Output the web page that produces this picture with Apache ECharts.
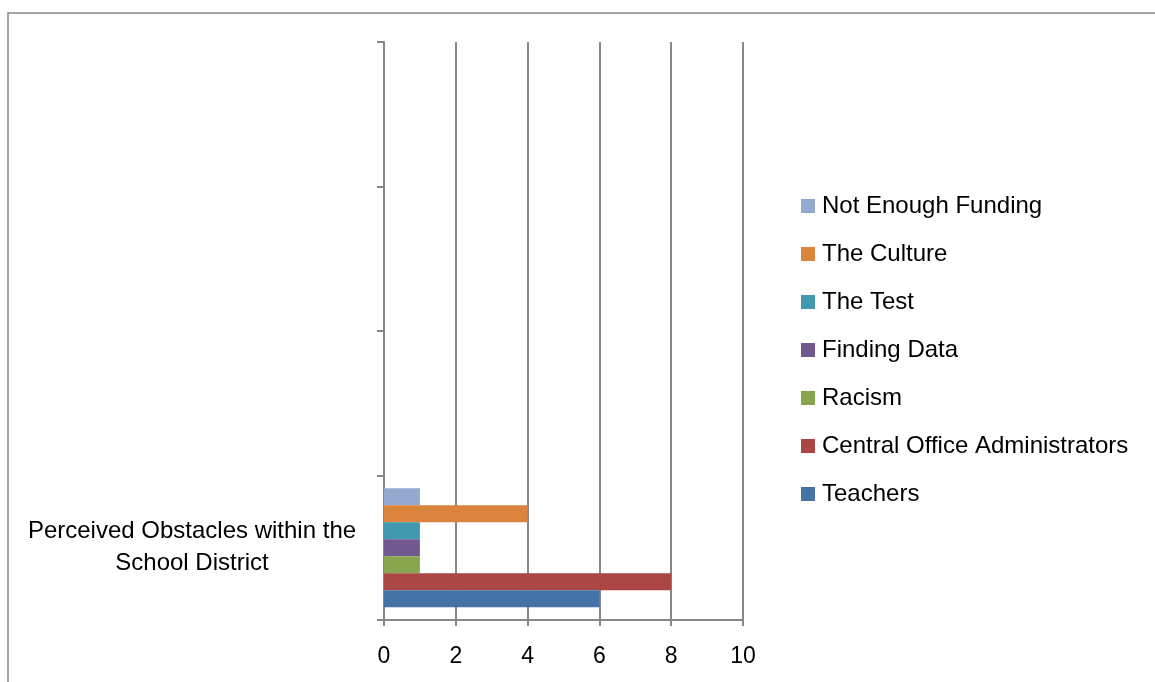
<!DOCTYPE html>
<html>
<head>
<meta charset="utf-8">
<script src="https://cdn.jsdelivr.net/npm/echarts@6/dist/echarts.min.js"></script>
<style>
  html, body { margin: 0; padding: 0; background: #fff; }
  #chart { width: 1155px; height: 682px; }
</style>
</head>
<body>
<div id="chart"></div>
<script>
// categories on the vertical axis (bottom to top), only the first one is used
var categories = ['Perceived Obstacles within the School District', '', '', ''];

// series, bottom bar first
var seriesNames = ['Teachers', 'Central Office Administrators', 'Racism', 'Finding Data', 'The Test', 'The Culture', 'Not Enough Funding'];
var teachers = [6];
var centralOffice = [8];
var racism = [1];
var findingData = [1];
var theTest = [1];
var theCulture = [4];
var notEnoughFunding = [1];
var seriesValues = [teachers, centralOffice, racism, findingData, theTest, theCulture, notEnoughFunding];
var colors = ['#4572A7', '#AA4643', '#89A54E', '#71588F', '#4198AF', '#DB843D', '#93A9CF'];

var xTicks = { min: 0, max: 10, interval: 2 };

var myChart = echarts.init(document.getElementById('chart'));
var gray = '#878787';

// echarts stacks horizontal bars top-down, so add them top bar first
var series = [];
for (var i = seriesNames.length - 1; i >= 0; i--) {
    series.push({
        name: seriesNames[i],
        type: 'bar',
        data: seriesValues[i],
        barGap: 0,
        barCategoryGap: '17.6%',
        itemStyle: { color: colors[i] }
    });
}

var option = {
    animation: false,
    textStyle: { fontFamily: 'Liberation Sans' },
    grid: { left: 384, right: 412, top: 42, bottom: 62, containLabel: false },
    legend: {
        orient: 'vertical',
        left: 796,
        top: 189,
        itemWidth: 14,
        itemHeight: 14,
        itemGap: 24,
        icon: 'rect',
        data: seriesNames.slice().reverse(),
        textStyle: { fontSize: 24, color: '#000', fontFamily: 'Liberation Sans', padding: [0, 0, 0, 2] }
    },
    xAxis: {
        type: 'value',
        min: xTicks.min,
        max: xTicks.max,
        interval: xTicks.interval,
        axisLine: { show: true, lineStyle: { color: gray, width: 2 } },
        axisTick: { show: true, length: 6, lineStyle: { color: gray, width: 2 } },
        splitLine: { show: true, lineStyle: { color: gray, width: 2 } },
        axisLabel: { fontSize: 23, color: '#000', margin: 25 }
    },
    yAxis: {
        type: 'category',
        data: categories,
        axisLine: { show: true, lineStyle: { color: gray, width: 2 } },
        axisTick: { show: true, length: 7, lineStyle: { color: gray, width: 2 } },
        axisLabel: {
            fontSize: 24,
            color: '#000',
            align: 'center',
            margin: 192,
            lineHeight: 32,
            formatter: function (v) { return v.replace(' School', '\nSchool'); }
        }
    },
    graphic: [{
        type: 'rect',
        shape: { x: 8, y: 13, width: 1200, height: 700 },
        style: { fill: 'none', stroke: gray, lineWidth: 1.5 }
    }],
    series: series
};

myChart.setOption(option);
window.addEventListener('resize', function () {
    myChart.resize();
});
</script>
</body>
</html>
